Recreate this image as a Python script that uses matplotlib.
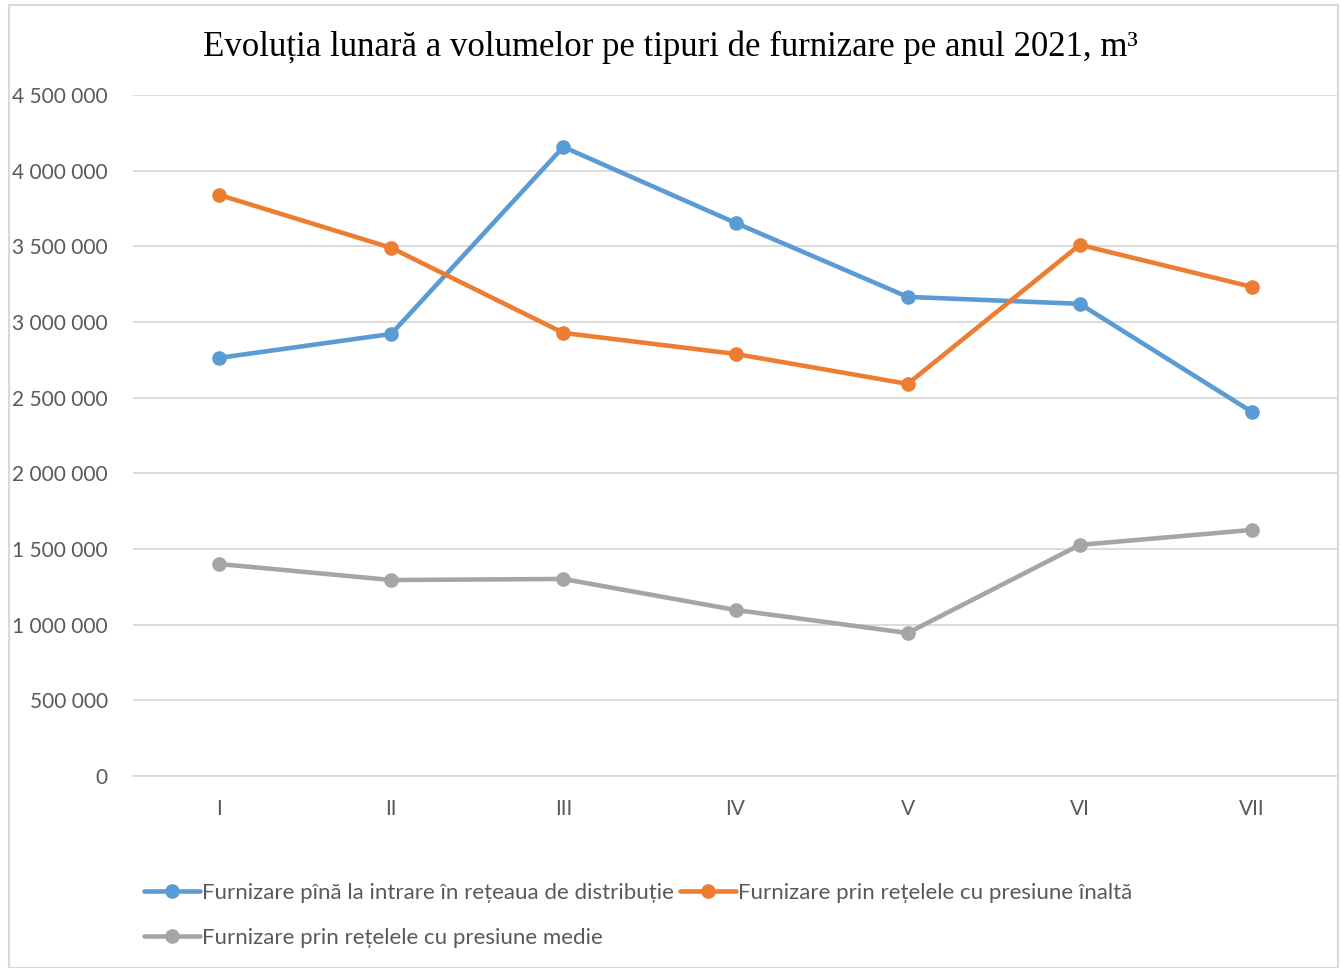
# plot.py
# monthly supply volumes by supply type, 2021

import matplotlib.pyplot as plt
from matplotlib.patches import Rectangle
from matplotlib.ticker import FuncFormatter

months = ["I", "II", "III", "IV", "V", "VI", "VII"]
label_entry = "Furnizare pînă la intrare în rețeaua de distribuție"
label_high = "Furnizare prin rețelele cu presiune înaltă"
label_medium = "Furnizare prin rețelele cu presiune medie"

entry_vals = [2763000, 2921000, 4157000, 3655000, 3166000, 3120000, 2406000]
high_vals = [3840000, 3490000, 2928000, 2789000, 2591000, 3510000, 3232000]
medium_vals = [1401000, 1295000, 1302000, 1097000, 945000, 1527000, 1626000]

plt.rcParams['font.family'] = ['Lato', 'DejaVu Sans']

fig = plt.figure(figsize=(13.41, 9.68), dpi=100)
ax = fig.add_axes([133 / 1341, 1 - 776 / 968, (1338 - 133) / 1341, (776 - 95) / 968])

x = range(len(months))
lines = []
for vals, col, lab in [(entry_vals, "#5B9BD5", label_entry),
                       (high_vals, "#ED7D31", label_high),
                       (medium_vals, "#A5A5A5", label_medium)]:
    ln, = ax.plot(x, vals, color=col, lw=3.3, marker="o", ms=9.5, label=lab,
                  solid_capstyle="round")
    lines.append(ln)

ax.set_xlim(-0.5, 6.5)
ax.set_ylim(0, 4500000)
ax.set_yticks(range(0, 4500001, 500000))
ax.yaxis.set_major_formatter(FuncFormatter(lambda v, p: f"{int(v):,}".replace(",", " ")))
ax.set_xticks(list(x))
ax.set_xticklabels(months)
ax.grid(axis="y", color="#D9D9D9", lw=1.3)
ax.set_axisbelow(True)
for s in ["top", "right", "left"]:
    ax.spines[s].set_visible(False)
ax.spines["bottom"].set_color("#D9D9D9")
ax.spines["bottom"].set_linewidth(1.3)
ax.tick_params(length=0, labelsize=15, colors="#595959")
ax.tick_params(axis="x", pad=16.5)
ax.tick_params(axis="y", pad=18)

fig.text(0.5, 1 - 47 / 968, "Evoluția lunară a volumelor pe tipuri de furnizare pe anul 2021, m³",
         ha="center", va="center", fontsize=25, family="Liberation Serif", color="black")

# legend: order so row 1 has entry + high, row 2 has medium
leg = fig.legend([lines[0], lines[2], lines[1]], [label_entry, label_medium, label_high],
                 ncol=2, loc="upper left", bbox_to_anchor=(133 / 1341, 1 - 872 / 968),
                 frameon=False, fontsize=16, handlelength=2.5, handletextpad=0.1,
                 columnspacing=0.3, labelspacing=1.1, borderpad=0)
for t in leg.get_texts():
    t.set_color("#595959")

fig.patches.append(Rectangle((9 / 1341, 0), 1 - 12 / 1341, 1 - 5 / 968, transform=fig.transFigure,
                             fill=False, edgecolor="#D9D9D9", lw=1.5))

fig.savefig("out.png", dpi=100)
